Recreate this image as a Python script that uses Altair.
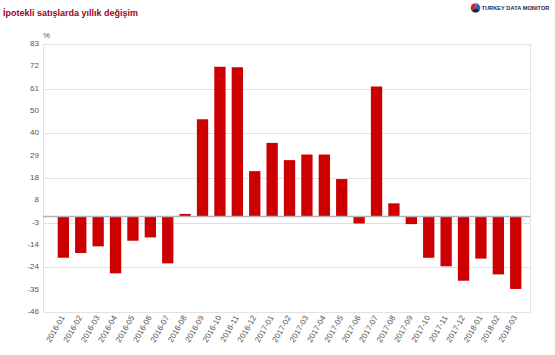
import altair as alt
import numpy as np
import pandas as pd

months = ["2016-01", "2016-02", "2016-03", "2016-04", "2016-05", "2016-06", "2016-07",
          "2016-08", "2016-09", "2016-10", "2016-11", "2016-12", "2017-01", "2017-02",
          "2017-03", "2017-04", "2017-05", "2017-06", "2017-07", "2017-08", "2017-09",
          "2017-10", "2017-11", "2017-12", "2018-01", "2018-02", "2018-03"]
values = [-19.9, -17.6, -14.4, -27.4, -11.7, -10.1, -22.6,
          1.2, 46.8, 72.1, 71.8, 21.8, 35.4, 27.1,
          29.8, 29.8, 18.0, -3.4, 62.5, 6.3, -3.7,
          -19.9, -24.0, -30.9, -20.3, -27.9, -34.9]
tick_labels = [-46, -35, -24, -14, -3, 8, 18, 29, 40, 50, 61, 72, 83]

y_min, y_max = -46, 83
tick_pos = [float(v) for v in np.linspace(y_min, y_max, len(tick_labels))]

df = pd.DataFrame({"month": months, "value": values})
ticks_df = pd.DataFrame({"pos": tick_pos, "label": [str(t) for t in tick_labels]})

FONT = "Liberation Sans"

ysc = alt.Scale(domain=[y_min, y_max], nice=False, zero=False)

bars = alt.Chart(df).mark_bar(color="#cc0000").encode(
    x=alt.X("month:N", sort=months,
            scale=alt.Scale(paddingInner=0.35, paddingOuter=0.67, align=0.63),
            axis=alt.Axis(title=None, labelAngle=300, labelAlign="right", labelBaseline="middle",
                          labelFontSize=8, labelColor="#555555", labelFont=FONT,
                          ticks=False, domain=False, grid=False, labelPadding=4,
                          labelOverlap=False)),
    y=alt.Y("value:Q", scale=ysc,
            axis=alt.Axis(title=None, values=tick_pos, labels=False,
                          ticks=False, domain=False, grid=True, gridColor="#e2e2e2",
                          gridWidth=1)),
)

ylabels = alt.Chart(ticks_df).mark_text(
    align="right", baseline="middle", font=FONT, fontSize=8, color="#555555"
).encode(y=alt.Y("pos:Q", scale=ysc), x=alt.value(-4), text="label:N")

zero = alt.Chart(alt.Data(values=[{"z": 0}])).mark_rule(color="#b5b5b5", strokeWidth=1.5).encode(
    y=alt.datum(0)
)

one = alt.Data(values=[{"a": 1}])

title = alt.Chart(one).mark_text(
    text="İpotekli satışlarda yıllık değişim", align="left", baseline="middle",
    font=FONT, fontSize=9, fontWeight="bold", color="#a0001c"
).encode(x=alt.value(-40), y=alt.value(-31.5))

pct = alt.Chart(one).mark_text(
    text="%", align="left", baseline="middle", font=FONT, fontSize=8, color="#555555"
).encode(x=alt.value(0), y=alt.value(-8))

logo_text = alt.Chart(one).mark_text(
    text="TURKEY DATA MONITOR", align="left", baseline="middle",
    font=FONT, fontSize=5.7, fontWeight="bold", color="#1c2a4a"
).encode(x=alt.value(438.5), y=alt.value(-36))

arc1 = alt.Chart(one).mark_arc(theta=4.2, theta2=6.283, outerRadius=4.8, color="#d62027").encode(
    x=alt.value(432.5), y=alt.value(-36))
arc2 = alt.Chart(one).mark_arc(theta=0, theta2=2.0, outerRadius=4.8, color="#2a63b8").encode(
    x=alt.value(432.5), y=alt.value(-36))
arc3 = alt.Chart(one).mark_arc(theta=2.0, theta2=4.2, outerRadius=4.8, color="#1c2a4a").encode(
    x=alt.value(432.5), y=alt.value(-36))

chart = alt.layer(bars, ylabels, zero, title, pct, logo_text, arc1, arc2, arc3).properties(
    width=487, height=268,
    autosize=alt.AutoSizeParams(type="none"),
    padding={"left": 43, "top": 44, "right": 25, "bottom": 43},
    background="white",
).configure_view(stroke="#e2e2e2", strokeWidth=1)

chart.save("out.html", embed_options={"renderer": "svg", "actions": False})
